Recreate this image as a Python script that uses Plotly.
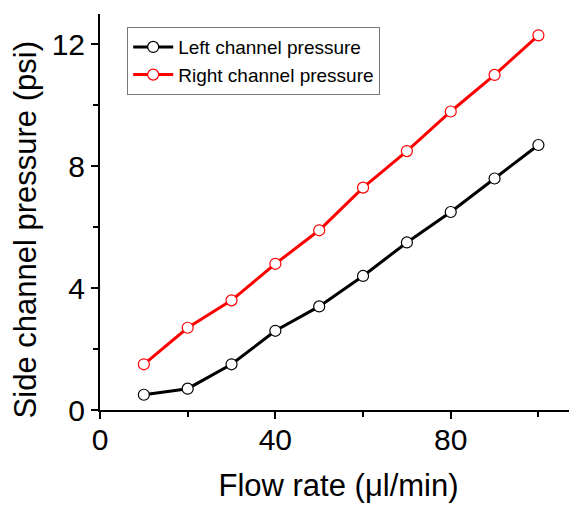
import plotly.graph_objects as go

flow_rate = [10, 20, 30, 40, 50, 60, 70, 80, 90, 100]
left_pressure = [0.5, 0.7, 1.5, 2.6, 3.4, 4.4, 5.5, 6.5, 7.6, 8.7]
right_pressure = [1.5, 2.7, 3.6, 4.8, 5.9, 7.3, 8.5, 9.8, 11.0, 12.3]
series_names = ["Left channel pressure", "Right channel pressure"]
x_ticks = [0, 40, 80]
y_ticks = [0, 4, 8, 12]
x_title = "Flow rate (\u03bcl/min)"
y_title = "Side channel pressure (psi)"

FONT = "Arial, Liberation Sans, sans-serif"

fig = go.Figure()
fig.add_trace(go.Scatter(
    x=flow_rate, y=left_pressure, name=series_names[0], mode="lines+markers",
    line=dict(color="black", width=3),
    marker=dict(symbol="circle", size=11, color="white", line=dict(color="black", width=1.2)),
))
fig.add_trace(go.Scatter(
    x=flow_rate, y=right_pressure, name=series_names[1], mode="lines+markers",
    line=dict(color="#ff0000", width=3),
    marker=dict(symbol="circle", size=11, color="white", line=dict(color="#ff0000", width=1.2)),
))

axis_common = dict(
    showline=True, linecolor="black", linewidth=2, mirror=False,
    ticks="outside", ticklen=7, tickwidth=2, tickcolor="black",
    showgrid=False, zeroline=False, automargin=False,
    tickfont=dict(family=FONT, size=30, color="black"),
    title_font=dict(family=FONT, size=31, color="black"),
)

fig.update_layout(
    width=577, height=506,
    margin=dict(l=92, r=8, t=6, b=104),
    paper_bgcolor="white", plot_bgcolor="white",
    showlegend=True,
    legend=dict(
        x=0.057, y=0.967, xanchor="left", yanchor="top",
        bgcolor="white", bordercolor="#777777", borderwidth=1,
        font=dict(family=FONT, size=19, color="black"),
        tracegroupgap=0, itemwidth=40,
    ),
    annotations=[dict(
        text=y_title, textangle=-90, xref="paper", yref="paper",
        x=-0.156, y=0.455, xanchor="center", yanchor="middle", showarrow=False,
        font=dict(family=FONT, size=31, color="black"),
    )],
)
fig.update_xaxes(
    range=[0, 108.8], tickvals=x_ticks, ticktext=[str(v) for v in x_ticks],
    minor=dict(ticks="outside", ticklen=5, tickwidth=2, tickcolor="black", dtick=20, tick0=0),
    title_text=x_title, title_standoff=19, ticklabelstandoff=-5,
    **axis_common,
)
fig.update_yaxes(
    range=[0, 13], tickvals=y_ticks, ticktext=[str(v) for v in y_ticks],
    minor=dict(ticks="outside", ticklen=5, tickwidth=2, tickcolor="black", dtick=2, tick0=0),
    **axis_common,
)

fig.write_html("out.html")
